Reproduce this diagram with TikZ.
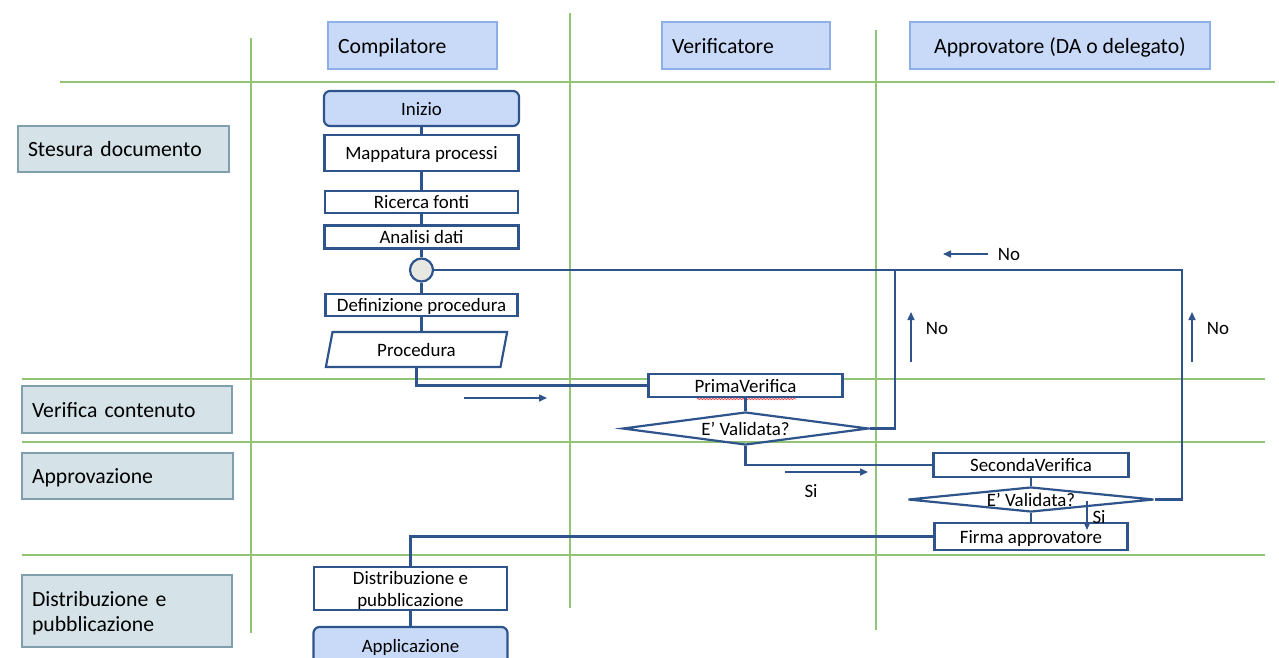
\documentclass[tikz,border=0pt]{standalone}
\usepackage{fontspec}
\setmainfont{Carlito}
\usetikzlibrary{shapes.geometric,arrows.meta,decorations.pathmorphing}
\definecolor{flowblue}{RGB}{47,84,140}
\definecolor{gridgreen}{RGB}{146,196,118}
\definecolor{hdrfill}{RGB}{201,218,248}
\definecolor{hdrline}{RGB}{142,176,232}
\definecolor{lanefill}{RGB}{213,226,231}
\definecolor{laneline}{RGB}{128,158,172}
\definecolor{circfill}{RGB}{232,232,226}
\newcommand{\flowfont}{\fontsize{18.9}{22}\selectfont}
\newcommand{\hdrfont}{\fontsize{21.7}{25}\selectfont}
\begin{document}
\begin{tikzpicture}[x=1pt,y=-1pt,
 grid/.style={draw=gridgreen,line width=1.3pt},
 hdr/.style={draw=hdrline,fill=hdrfill,line width=1.3pt,font=\hdrfont,minimum height=47,inner ysep=0,inner xsep=10pt,text height=16pt,text depth=0pt},
 lane/.style={draw=laneline,fill=lanefill,line width=1.3pt,font=\hdrfont,inner ysep=0,inner xsep=10pt,align=left},
 lone/.style={text height=15pt,text depth=0pt},
 one/.style={text height=13.5pt,text depth=0pt},
 box/.style={draw=flowblue,fill=white,line width=2.2pt,font=\flowfont,inner sep=0,minimum width=194,minimum height=24},
 term/.style={box,fill=hdrfill,rounded corners=6pt,minimum height=35},
 dia/.style={diamond,draw=flowblue,line width=2.2pt,font=\flowfont,inner sep=0,shape aspect=8,minimum width=246},
 conn/.style={draw=flowblue,line width=2.2pt},
 free/.style={draw=flowblue,line width=1.5pt,-{Triangle[length=8pt,width=7pt]}},
 lbl/.style={font=\flowfont,inner sep=0}
]
\useasboundingbox (0,0) rectangle (1279,657);
% grid
\draw[grid] (60,82) -- (1275,82);
\draw[grid] (22,379) -- (1265,379);
\draw[grid] (22,442) -- (1265,442);
\draw[grid] (22,555) -- (1265,555);
\draw[grid] (251,38) -- (251,633);
\draw[grid] (570,13) -- (570,608);
\draw[grid] (876,30) -- (876,630);
% headers
\node[hdr,text width=149,align=left] (hc) at (412.5,45.5) {Compilatore};
\node[hdr,text width=148,align=left] (hv) at (746,45.5) {Verificatore};
\node[hdr,minimum width=300,align=center] (ha) at (1060,45.5) {Approvatore (DA o delegato)};
% lanes
\node[lane,lone,text width=191,minimum height=46] (l1) at (123.5,149) {Stesura documento};
\node[lane,lone,text width=190,minimum height=47] (l2) at (127,409.5) {Verifica contenuto};
\node[lane,lone,text width=191,minimum height=46] (l3) at (127.5,476) {Approvazione};
\node[lane,text width=190,minimum height=72,text height=16pt,text depth=25pt] (l4) at (127,611) {Distribuzione e\\pubblicazione};
% flow nodes
\node[term,one,minimum width=195,minimum height=35] (ini) at (421.5,108.5) {Inizio};
\node[box,one,minimum height=36] (map) at (421.5,153) {Mappatura processi};
\node[box,one,minimum width=193,minimum height=22] (ric) at (421.5,202) {Ricerca fonti};
\node[box,one,minimum height=23] (ana) at (421.5,237) {Analisi dati};
\node[circle,draw=flowblue,fill=circfill,line width=2.2pt,minimum size=23,inner sep=0] (circ) at (421.5,270) {};
\node[box,one,minimum width=192,minimum height=22] (def) at (421.5,305) {Definizione procedura};
\node[trapezium,one,trapezium stretches=true,trapezium left angle=77,trapezium right angle=103,draw=flowblue,fill=white,line width=2.2pt,font=\flowfont,inner sep=0,minimum width=183,minimum height=35] (proc) at (416.5,349.5) {Procedura};
\node[box,one,minimum height=23] (pv) at (745.5,385.5) {PrimaVerifica};
\node[dia,minimum height=33] (d1) at (745.5,428.5) {E’ Validata?};
\node[box,one,minimum width=195,minimum height=24] (sv) at (1031,465) {SecondaVerifica};
\node[dia,minimum height=25] (d2) at (1031,499.5) {E’ Validata?};
\node[box,one,minimum width=193,minimum height=27] (fa) at (1031,536.5) {Firma approvatore};
\node[box,minimum width=193,minimum height=43,align=center,text height=36.5pt,text depth=0pt] (dist) at (410.5,588.5) {Distribuzione e\\pubblicazione};
\node[term,one,minimum width=194,minimum height=38] (app) at (410.5,646) {Applicazione};
% spell-check underline
\draw[red!80,line width=0.6pt,decorate,decoration={snake,amplitude=0.8pt,segment length=3pt}] (697,399) -- (796,399);
% connectors
\draw[conn] (ini) -- (map);
\draw[conn] (map) -- (ric);
\draw[conn] (ric) -- (ana);
\draw[conn] (ana) -- (circ);
\draw[conn] (circ) -- (def);
\draw[conn] (def.south) -- (def.south |- proc.north);
\draw[conn] (proc.south) |- (pv.west);
\draw[conn] (pv) -- (d1);
\draw[conn] (d1.south) |- (sv.west);
\draw[conn] (sv) -- (d2);
\draw[conn] (d2) -- (fa);
\draw[conn] (fa.west) -| (dist.north);
\draw[conn] (dist) -- (app);
\coordinate (rtop) at (1182,270);
\coordinate (ltop) at (895,270);
\draw[conn] (circ.east) -- (rtop) |- (d2.east);
\draw[conn] (d1.east) -| (ltop);
% free arrows
\coordinate (a1s) at (464,398); \coordinate (a1e) at (547,398);
\coordinate (a2s) at (785,472); \coordinate (a2e) at (868,472);
\coordinate (a3s) at (988,254); \coordinate (a3e) at (943,254);
\coordinate (a4s) at (911,362); \coordinate (a4e) at (911,312);
\coordinate (a5s) at (1192,362); \coordinate (a5e) at (1192,312);
\coordinate (a6s) at (1087,501); \coordinate (a6e) at (1087,530);
\draw[free] (a1s) -- (a1e);
\draw[free] (a2s) -- (a2e);
\draw[free] (a3s) -- (a3e);
\draw[free] (a4s) -- (a4e);
\draw[free] (a5s) -- (a5e);
\draw[free,line width=1.3pt,-{Triangle[length=6pt,width=5pt]}] (a6s) -- (a6e);
\node[lbl] (n1) at (1009,254) {No};
\node[lbl] (n2) at (937,328) {No};
\node[lbl] (n3) at (1218,328) {No};
\node[lbl] (s1) at (811,491) {Si};
\node[lbl] (s2) at (1099,517) {Si};
\end{tikzpicture}
\end{document}
